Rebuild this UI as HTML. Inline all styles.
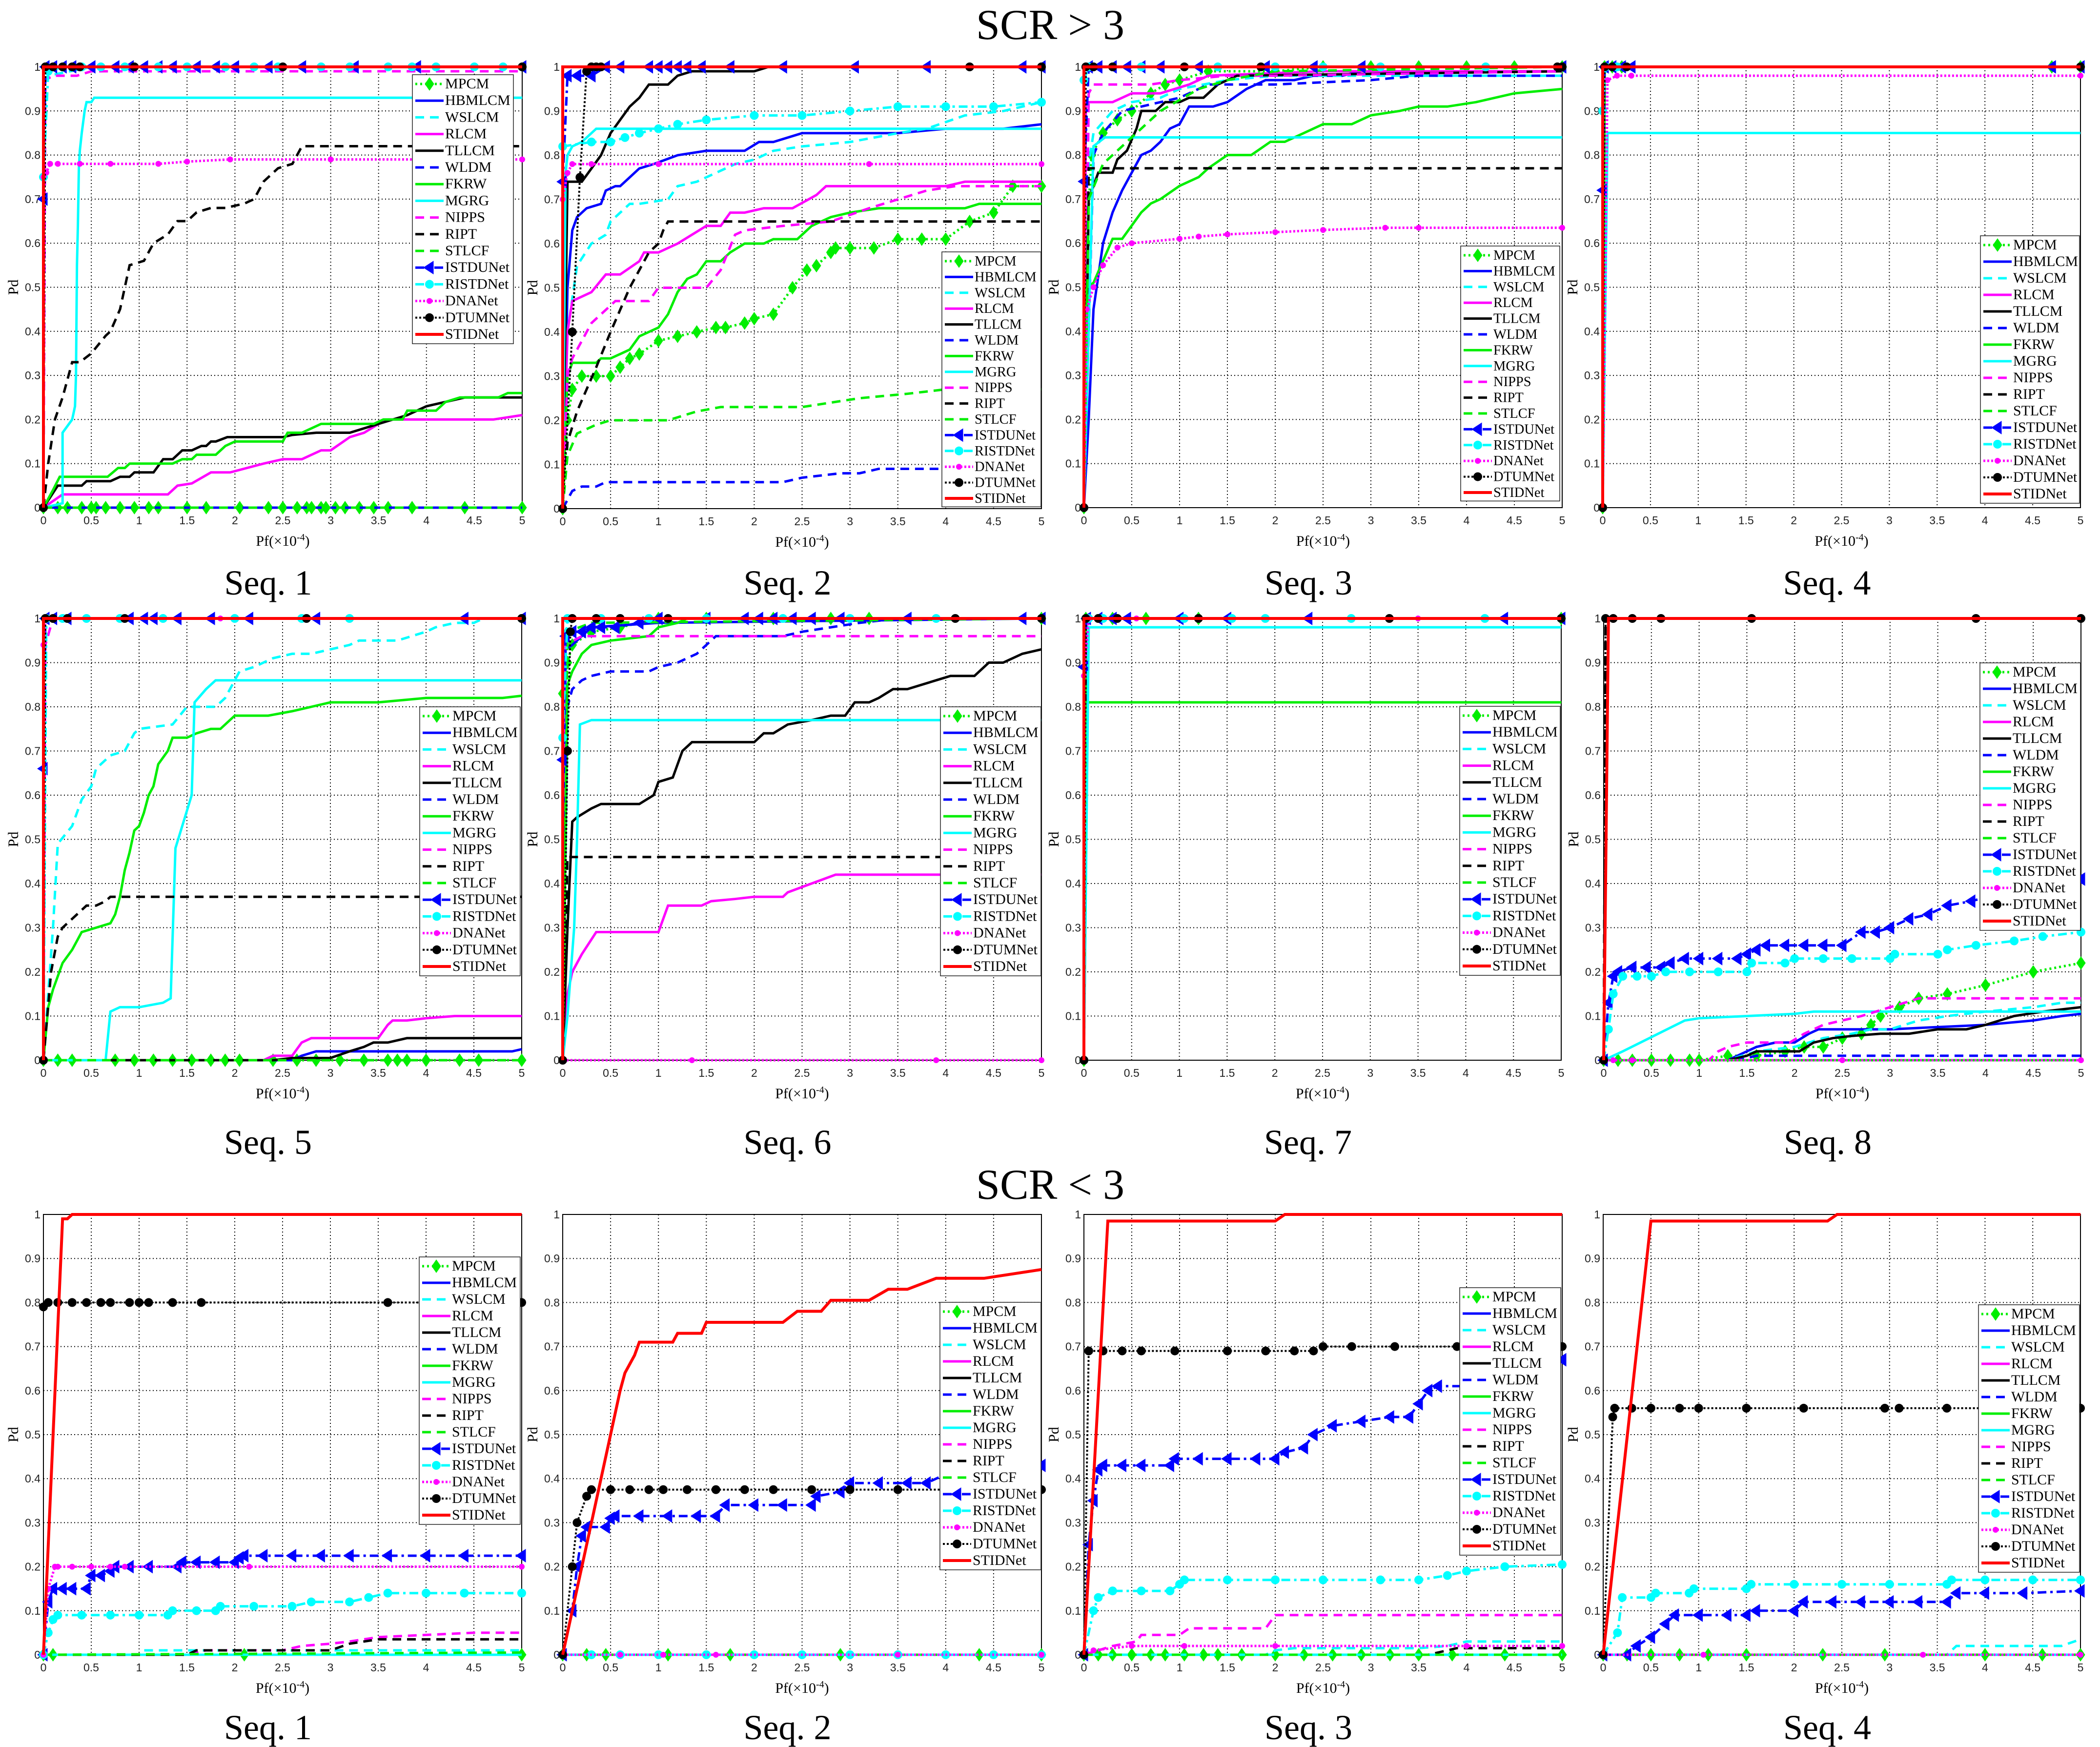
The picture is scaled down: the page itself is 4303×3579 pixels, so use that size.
<!DOCTYPE html>
<html><head><meta charset="utf-8"><title>Pd-Pf curves</title>
<style>
html,body{margin:0;padding:0;background:#fff;}
svg{display:block;}
</style></head>
<body>
<svg id="fig" xmlns="http://www.w3.org/2000/svg" width="4303" height="3579" viewBox="0 0 4303 3579">
<rect x="0" y="0" width="4303" height="3579" fill="#fff"/>
<text x="2152" y="80" font-family="Liberation Serif, serif" font-size="88" text-anchor="middle">SCR &gt; 3</text>
<text x="2152" y="2456" font-family="Liberation Serif, serif" font-size="88" text-anchor="middle">SCR &lt; 3</text>
</svg>
<script>
// ---------- series names (legend order) ----------
const seriesNames = ["MPCM","HBMLCM","WSLCM","RLCM","TLLCM","WLDM","FKRW","MGRG","NIPPS","RIPT","STLCF","ISTDUNet","RISTDNet","DNANet","DTUMNet","STIDNet"];
const xTicks = [0,0.5,1,1.5,2,2.5,3,3.5,4,4.5,5];
const xTickLabels = ["0","0.5","1","1.5","2","2.5","3","3.5","4","4.5","5"];
const yTicks = [0,0.1,0.2,0.3,0.4,0.5,0.6,0.7,0.8,0.9,1];
const yTickLabels = ["0","0.1","0.2","0.3","0.4","0.5","0.6","0.7","0.8","0.9","1"];

// ---------- data: SCR > 3 ----------
const hiSeq1 = [
 [[0,0],[0.15,0],[0.25,0],[0.4,0],[0.5,0],[0.55,0],[0.65,0],[0.8,0],[0.95,0],[1.1,0],[1.2,0],[1.5,0],[1.7,0],[2.05,0],[2.35,0],[2.5,0],[2.65,0],[2.75,0],[2.8,0],[2.9,0],[2.95,0],[3.05,0],[3.15,0],[3.3,0],[3.45,0],[3.6,0],[3.85,0],[4.4,0],[5,0]],
 [[0,0],[5,0]],
 [[0,0],[0.02,0.97],[0.05,0.98],[0.5,1],[5,1]],
 [[0,0],[0.2,0.03],[1.3,0.03],[1.4,0.05],[1.55,0.055],[1.75,0.08],[1.95,0.08],[2.3,0.1],[2.5,0.11],[2.7,0.11],[2.8,0.12],[2.9,0.13],[3,0.13],[3.2,0.16],[3.35,0.17],[3.5,0.19],[3.6,0.2],[4.7,0.2],[5,0.21]],
 [[0,0],[0.15,0.05],[0.4,0.05],[0.45,0.06],[0.7,0.06],[0.8,0.07],[0.9,0.07],[0.95,0.08],[1.15,0.08],[1.25,0.11],[1.35,0.11],[1.45,0.13],[1.55,0.13],[1.65,0.14],[1.7,0.14],[1.75,0.15],[1.8,0.15],[1.92,0.16],[2.5,0.16],[2.6,0.165],[2.85,0.17],[3.2,0.17],[3.5,0.19],[3.8,0.21],[4.0,0.23],[4.4,0.25],[5,0.25]],
 [[0,0],[5,0]],
 [[0,0],[0.1,0.04],[0.17,0.07],[0.67,0.07],[0.78,0.09],[0.85,0.09],[0.9,0.1],[1.35,0.1],[1.45,0.11],[1.55,0.11],[1.6,0.12],[1.8,0.12],[1.9,0.14],[2.0,0.15],[2.5,0.15],[2.55,0.17],[2.7,0.17],[2.9,0.19],[3.45,0.19],[3.55,0.2],[3.75,0.2],[3.8,0.22],[4.1,0.22],[4.2,0.24],[4.35,0.25],[4.75,0.25],[4.85,0.26],[5,0.26]],
 [[0,0],[0.2,0.01],[0.2,0.17],[0.3,0.2],[0.33,0.23],[0.34,0.3],[0.35,0.55],[0.36,0.64],[0.37,0.77],[0.38,0.81],[0.4,0.85],[0.43,0.9],[0.45,0.92],[0.5,0.92],[0.53,0.93],[5,0.93]],
 [[0,0],[0.02,0.97],[0.1,0.98],[0.35,0.98],[0.5,0.99],[5,0.99]],
 [[0,0],[0.05,0.1],[0.12,0.2],[0.2,0.25],[0.3,0.33],[0.38,0.33],[0.5,0.35],[0.65,0.39],[0.7,0.4],[0.8,0.45],[0.9,0.55],[1.05,0.56],[1.15,0.6],[1.3,0.62],[1.4,0.65],[1.5,0.65],[1.6,0.67],[1.75,0.68],[1.9,0.68],[2.1,0.69],[2.2,0.7],[2.3,0.74],[2.45,0.77],[2.6,0.78],[2.7,0.82],[5,0.82]],
 [[0,0],[5,0]],
 [[0,0.7],[0.02,1],[0.1,1],[0.2,1],[0.3,1],[0.5,1],[0.75,1],[0.9,1],[1.05,1],[1.2,1],[1.35,1],[1.6,1],[1.8,1],[2.0,1],[2.35,1],[2.7,1],[3.25,1],[3.9,1],[5,1]],
 [[0,0.75],[0.05,0.99],[0.2,1],[0.4,1],[0.6,1],[0.85,1],[1.2,1],[1.5,1],[1.9,1],[2.2,1],[2.45,1],[2.9,1],[3.2,1],[3.6,1],[3.85,1],[4.1,1],[4.5,1],[4.8,1],[5,1]],
 [[0,0.75],[0.03,0.76],[0.07,0.78],[0.15,0.78],[0.38,0.78],[0.7,0.78],[1.2,0.78],[1.5,0.785],[1.95,0.79],[3.0,0.79],[5,0.79]],
 [[0,0],[0.02,1],[0.1,1],[0.2,1],[0.3,1],[0.38,1],[0.95,1],[2.5,1],[5,1]],
 [[0,0],[0,1],[5,1]]
];
const hiSeq2 = [
 [[0,0],[0.05,0.2],[0.1,0.27],[0.2,0.3],[0.35,0.3],[0.5,0.3],[0.6,0.32],[0.7,0.34],[0.8,0.35],[1,0.38],[1.2,0.39],[1.4,0.4],[1.6,0.41],[1.7,0.41],[1.9,0.42],[2.0,0.43],[2.2,0.44],[2.4,0.5],[2.55,0.54],[2.65,0.55],[2.8,0.58],[2.85,0.59],[3.0,0.59],[3.25,0.59],[3.5,0.61],[3.75,0.61],[4.0,0.61],[4.25,0.65],[4.5,0.67],[4.7,0.73],[5,0.73]],
 [[0,0],[0.05,0.5],[0.1,0.63],[0.15,0.66],[0.25,0.68],[0.4,0.69],[0.45,0.72],[0.55,0.73],[0.6,0.73],[0.8,0.77],[0.95,0.78],[1.2,0.8],[1.5,0.81],[1.9,0.81],[2.05,0.83],[2.2,0.83],[2.5,0.85],[3.5,0.85],[4.0,0.86],[4.6,0.86],[5,0.87]],
 [[0,0],[0.05,0.4],[0.15,0.55],[0.3,0.6],[0.45,0.62],[0.5,0.65],[0.7,0.69],[0.8,0.69],[1.1,0.7],[1.2,0.73],[1.4,0.74],[1.6,0.76],[1.8,0.78],[2.0,0.79],[2.2,0.81],[2.5,0.82],[3.0,0.83],[3.5,0.85],[3.8,0.86],[4.2,0.89],[4.6,0.9],[5,0.92]],
 [[0,0],[0.05,0.4],[0.1,0.47],[0.3,0.49],[0.45,0.53],[0.6,0.53],[0.8,0.56],[0.85,0.58],[1,0.58],[1.2,0.6],[1.5,0.64],[1.65,0.64],[1.75,0.67],[1.9,0.67],[2.1,0.68],[2.4,0.68],[2.65,0.71],[2.75,0.73],[4.0,0.73],[4.2,0.74],[5,0.74]],
 [[0,0],[0.05,0.74],[0.2,0.74],[0.3,0.77],[0.4,0.8],[0.5,0.85],[0.6,0.88],[0.7,0.91],[0.8,0.93],[0.9,0.96],[1.1,0.96],[1.2,0.98],[1.35,0.99],[1.45,0.99],[2.0,0.99],[2.15,1],[5,1]],
 [[0,0],[0.1,0.04],[0.2,0.05],[0.35,0.05],[0.45,0.06],[2.3,0.06],[2.5,0.07],[2.9,0.08],[3.1,0.08],[3.3,0.09],[5,0.09]],
 [[0,0],[0.05,0.3],[0.1,0.33],[0.35,0.33],[0.4,0.34],[0.5,0.34],[0.6,0.35],[0.7,0.36],[0.8,0.39],[1.0,0.41],[1.1,0.44],[1.2,0.49],[1.3,0.52],[1.4,0.53],[1.5,0.56],[1.65,0.56],[1.75,0.58],[1.9,0.6],[2.1,0.6],[2.2,0.61],[2.45,0.61],[2.6,0.64],[2.8,0.66],[3.0,0.67],[3.3,0.68],[4.2,0.68],[4.35,0.69],[5,0.69]],
 [[0,0],[0.03,0.76],[0.05,0.8],[0.1,0.82],[0.2,0.83],[0.35,0.86],[5,0.86]],
 [[0,0],[0.05,0.3],[0.1,0.34],[0.3,0.42],[0.4,0.44],[0.55,0.47],[0.9,0.47],[1.0,0.5],[1.5,0.5],[1.65,0.54],[1.8,0.62],[1.9,0.63],[2.3,0.64],[2.8,0.65],[3.2,0.68],[3.5,0.7],[3.8,0.72],[4.1,0.73],[5,0.73]],
 [[0,0],[0.05,0.15],[0.15,0.22],[0.25,0.27],[0.35,0.32],[0.5,0.4],[0.6,0.45],[0.7,0.5],[0.8,0.54],[0.9,0.58],[1.0,0.6],[1.05,0.63],[1.1,0.65],[5,0.65]],
 [[0,0],[0.05,0.12],[0.15,0.17],[0.35,0.19],[0.5,0.2],[1.1,0.2],[1.4,0.22],[1.65,0.23],[2.5,0.23],[2.8,0.24],[3.1,0.25],[3.6,0.26],[4,0.27],[5,0.27]],
 [[0,0.74],[0.05,0.98],[0.15,0.98],[0.3,0.98],[0.45,1],[0.6,1],[0.9,1],[1.0,1],[1.1,1],[1.2,1],[1.3,1],[1.45,1],[1.75,1],[2.3,1],[3.05,1],[3.8,1],[4.8,1],[5,1]],
 [[0,0.82],[0.3,0.83],[0.5,0.83],[0.65,0.84],[0.8,0.85],[1.0,0.86],[1.2,0.87],[1.5,0.88],[2.0,0.89],[2.5,0.89],[3.0,0.9],[3.5,0.91],[4.0,0.91],[4.5,0.91],[5,0.92]],
 [[0,0.7],[0.05,0.76],[0.1,0.78],[0.3,0.78],[1.0,0.78],[3.2,0.78],[5,0.78]],
 [[0,0],[0.1,0.4],[0.18,0.75],[0.25,0.99],[0.3,1],[0.35,1],[0.4,1],[4.25,1],[5,1]],
 [[0,0],[0,1],[5,1]]
];
const hiSeq3 = [
 [[0,0],[0.03,0.6],[0.08,0.8],[0.2,0.85],[0.35,0.88],[0.5,0.9],[0.7,0.94],[0.85,0.96],[1,0.97],[1.3,0.99],[2,0.99],[2.5,1],[3,1],[3.5,1],[4,1],[4.5,1],[5,1]],
 [[0,0],[0.05,0.2],[0.1,0.45],[0.2,0.6],[0.3,0.67],[0.4,0.72],[0.5,0.76],[0.6,0.8],[0.7,0.81],[0.8,0.83],[0.9,0.86],[1.0,0.87],[1.1,0.91],[1.35,0.91],[1.5,0.92],[1.7,0.95],[1.9,0.97],[2.2,0.97],[2.4,0.98],[2.7,0.98],[2.9,0.99],[5,0.99]],
 [[0,0],[0.03,0.75],[0.1,0.85],[0.3,0.9],[0.5,0.92],[0.8,0.93],[1.0,0.95],[1.5,0.97],[2,0.98],[5,0.98]],
 [[0,0],[0.02,0.92],[0.3,0.92],[0.5,0.94],[0.8,0.94],[1.1,0.96],[1.3,0.98],[2.5,0.99],[5,0.99]],
 [[0,0],[0.05,0.7],[0.1,0.73],[0.15,0.76],[0.3,0.76],[0.35,0.79],[0.45,0.81],[0.55,0.86],[0.6,0.9],[0.75,0.9],[0.85,0.92],[1.0,0.92],[1.1,0.93],[1.25,0.93],[1.4,0.96],[1.5,0.97],[1.6,0.98],[5,0.99]],
 [[0,0],[0.1,0.8],[0.2,0.85],[0.4,0.9],[0.6,0.91],[1.0,0.93],[1.3,0.96],[2,0.96],[3,0.97],[3.5,0.98],[5,0.98]],
 [[0,0],[0.03,0.5],[0.1,0.51],[0.2,0.56],[0.3,0.61],[0.4,0.61],[0.5,0.64],[0.6,0.67],[0.7,0.69],[0.8,0.7],[1,0.73],[1.2,0.75],[1.3,0.77],[1.5,0.8],[1.75,0.8],[1.95,0.83],[2.1,0.83],[2.3,0.85],[2.5,0.87],[2.8,0.87],[3.0,0.89],[3.3,0.9],[3.5,0.91],[3.8,0.91],[4.1,0.92],[4.5,0.94],[5,0.95]],
 [[0,0],[0.1,0.82],[0.22,0.84],[5,0.84]],
 [[0,0],[0.05,0.94],[0.1,0.96],[0.7,0.96],[1.0,0.97],[1.5,0.98],[2,0.98],[5,0.99]],
 [[0,0],[0.05,0.77],[5,0.77]],
 [[0,0],[0.05,0.7],[0.2,0.78],[0.5,0.84],[0.8,0.9],[1.2,0.95],[1.5,0.97],[2,0.99],[5,1]],
 [[0,0.74],[0.05,1],[0.15,1],[0.3,1],[0.45,1],[0.6,1],[0.8,1],[1.2,1],[1.9,1],[2.4,1],[2.9,1],[5,1]],
 [[0,0.97],[0.05,1],[0.3,1],[0.6,1],[1.4,1],[2.0,1],[2.5,1],[3.1,1],[4.2,1],[5,1]],
 [[0,0],[0.03,0.45],[0.1,0.5],[0.2,0.55],[0.35,0.59],[0.5,0.6],[1,0.61],[1.2,0.615],[1.5,0.62],[2.0,0.625],[2.5,0.63],[3.15,0.635],[3.5,0.635],[5,0.635]],
 [[0,0],[0.02,1],[0.1,1],[0.3,1],[1.05,1],[1.85,1],[4.95,1],[5,1]],
 [[0,0],[0,1],[5,1]]
];
const hiSeq4 = [
 [[0,0],[0.02,1],[0.1,1],[0.2,1],[4.7,1],[5,1]],
 [[0,0],[0.02,1],[5,1]],
 [[0,0],[0.02,1],[5,1]],
 [[0,0],[0.02,1],[5,1]],
 [[0,0],[0.02,1],[5,1]],
 [[0,0],[0.02,1],[5,1]],
 [[0,0],[0.02,1],[5,1]],
 [[0,0],[0.05,0.85],[5,0.85]],
 [[0,0],[0.02,1],[5,1]],
 [[0,0],[0.02,1],[5,1]],
 [[0,0],[0.02,1],[5,1]],
 [[0,0.72],[0.02,1],[0.1,1],[0.2,1],[0.3,1],[4.7,1],[5,1]],
 [[0,0.9],[0.03,1],[0.15,1],[0.25,1],[5,1]],
 [[0,0],[0.05,0.97],[0.15,0.98],[0.3,0.98],[5,0.98]],
 [[0,0],[0.02,1],[0.1,1],[0.25,1],[5,1]],
 [[0,0],[0,1],[5,1]]
];
const hiSeq5 = [
 [[0,0],[0.15,0],[0.3,0],[0.75,0],[0.95,0],[1.15,0],[1.35,0],[1.55,0],[1.75,0],[1.9,0],[2.05,0],[2.4,0],[2.65,0],[2.85,0],[3.1,0],[3.35,0],[3.6,0],[3.7,0],[3.8,0],[4.0,0],[4.35,0],[4.55,0],[5,0]],
 [[0,0],[2.6,0],[2.7,0.01],[2.85,0.02],[4.9,0.02],[5,0.025]],
 [[0,0],[0.1,0.3],[0.15,0.49],[0.3,0.53],[0.4,0.59],[0.5,0.62],[0.55,0.66],[0.7,0.69],[0.85,0.7],[0.95,0.74],[1.0,0.75],[1.35,0.76],[1.5,0.8],[1.8,0.8],[1.9,0.82],[2.05,0.88],[2.2,0.89],[2.4,0.91],[2.6,0.92],[2.8,0.92],[3.0,0.93],[3.2,0.94],[3.3,0.95],[3.7,0.95],[3.85,0.96],[4.0,0.97],[4.1,0.98],[4.3,0.99],[4.5,0.99],[4.6,1.0],[5,1]],
 [[0,0],[2.3,0],[2.4,0.01],[2.6,0.01],[2.7,0.04],[2.8,0.05],[3.5,0.05],[3.6,0.08],[3.65,0.09],[3.8,0.09],[4.0,0.095],[4.3,0.1],[5,0.1]],
 [[0,0],[2.4,0],[2.6,0.005],[3.0,0.005],[3.2,0.02],[3.35,0.03],[3.45,0.04],[3.6,0.04],[3.8,0.05],[5,0.05]],
 [[0,0],[5,0]],
 [[0,0],[0.05,0.12],[0.1,0.16],[0.2,0.22],[0.3,0.25],[0.35,0.27],[0.4,0.29],[0.55,0.3],[0.7,0.31],[0.75,0.33],[0.8,0.37],[0.85,0.43],[0.9,0.47],[0.95,0.52],[1.0,0.53],[1.05,0.56],[1.1,0.6],[1.15,0.62],[1.2,0.67],[1.3,0.7],[1.35,0.73],[1.5,0.73],[1.6,0.74],[1.75,0.75],[1.85,0.75],[2.0,0.78],[2.35,0.78],[2.6,0.79],[2.8,0.8],[3.0,0.81],[3.5,0.81],[4.0,0.82],[4.8,0.82],[5,0.825]],
 [[0,0],[0.65,0],[0.7,0.11],[0.8,0.12],[1.0,0.12],[1.25,0.13],[1.33,0.14],[1.38,0.48],[1.55,0.6],[1.58,0.81],[1.7,0.84],[1.8,0.86],[5,0.86]],
 [[0,0],[0.02,0.94],[0.1,1],[5,1]],
 [[0,0],[0.08,0.2],[0.15,0.28],[0.2,0.3],[0.3,0.32],[0.45,0.35],[0.55,0.35],[0.65,0.36],[0.7,0.37],[5,0.37]],
 [[0,0],[5,0]],
 [[0,0.66],[0.02,1],[0.1,1],[0.25,1],[0.9,1],[1.05,1],[1.15,1],[1.4,1],[1.75,1],[2.15,1],[2.85,1],[4.4,1],[5,1]],
 [[0,0],[0.03,1],[0.2,1],[0.45,1],[0.8,1],[1.25,1],[2.0,1],[2.7,1],[3.2,1],[5,1]],
 [[0,0.94],[0.02,1],[1.85,1],[5,1]],
 [[0,0],[0.02,1],[0.1,1],[0.25,1],[0.85,1],[2.75,1],[5,1]],
 [[0,0],[0,1],[5,1]]
];
const hiSeq6 = [
 [[0,0.83],[0.05,0.9],[0.1,0.94],[0.3,0.97],[0.6,0.98],[1.0,1],[1.5,1],[2.2,1],[2.8,1],[3.2,1],[5,1]],
 [[0,0],[0.03,0.93],[0.1,0.94],[0.2,0.96],[0.3,0.98],[1,0.99],[5,1]],
 [[0,0],[0.02,0.97],[0.1,1],[5,1]],
 [[0,0],[0.05,0.15],[0.1,0.2],[0.2,0.24],[0.35,0.29],[1.0,0.29],[1.1,0.35],[1.45,0.35],[1.55,0.36],[1.8,0.365],[2.0,0.37],[2.3,0.37],[2.35,0.38],[2.6,0.4],[2.85,0.42],[5,0.42]],
 [[0,0],[0.05,0.3],[0.1,0.54],[0.15,0.55],[0.3,0.57],[0.4,0.58],[0.8,0.58],[0.95,0.6],[1.0,0.63],[1.15,0.64],[1.25,0.7],[1.35,0.72],[2.0,0.72],[2.1,0.74],[2.2,0.74],[2.35,0.76],[2.6,0.77],[2.8,0.78],[2.95,0.78],[3.05,0.81],[3.2,0.81],[3.3,0.82],[3.45,0.84],[3.6,0.84],[3.9,0.86],[4.05,0.87],[4.3,0.87],[4.45,0.9],[4.6,0.9],[4.8,0.92],[5,0.93]],
 [[0,0],[0.05,0.8],[0.1,0.84],[0.2,0.86],[0.3,0.87],[0.5,0.88],[0.9,0.88],[1.0,0.89],[1.2,0.9],[1.4,0.92],[1.5,0.94],[1.6,0.96],[2.3,0.96],[2.5,0.97],[2.8,0.98],[3.1,0.99],[3.5,1],[5,1]],
 [[0,0],[0.05,0.85],[0.1,0.88],[0.2,0.92],[0.3,0.94],[0.5,0.95],[0.9,0.96],[1.0,0.98],[1.2,0.99],[1.3,1],[5,1]],
 [[0,0],[0.05,0.1],[0.12,0.3],[0.15,0.5],[0.18,0.76],[0.3,0.77],[5,0.77]],
 [[0,0],[0.03,0.94],[0.2,0.96],[5,0.96]],
 [[0,0],[0.05,0.46],[5,0.46]],
 [[0,0],[0.05,0.97],[0.3,0.99],[5,1]],
 [[0,0.68],[0.03,0.96],[0.1,0.97],[0.2,0.97],[0.3,0.98],[0.4,0.98],[0.55,0.98],[0.8,0.99],[1.0,1],[1.5,1],[1.9,1],[2.05,1],[2.2,1],[2.4,1],[2.6,1],[2.9,1],[3.6,1],[4.8,1],[5,1]],
 [[0,0.73],[0.05,1],[0.4,1],[0.9,1],[1.5,1],[2.3,1],[3.0,1],[3.9,1],[5,1]],
 [[0,0],[1.35,0],[3.9,0],[5,0]],
 [[0,0],[0.05,0.7],[0.08,0.97],[0.1,1],[0.35,1],[0.6,1],[1.1,1],[4.1,1],[5,1]],
 [[0,0],[0,1],[5,1]]
];
const hiSeq7 = [
 [[0,0],[0.02,1],[0.3,1],[0.65,1],[1.2,1],[5,1]],
 [[0,0],[0.02,1],[5,1]],
 [[0,0],[0.02,1],[5,1]],
 [[0,0],[0.02,1],[5,1]],
 [[0,0],[0.02,1],[5,1]],
 [[0,0],[0.02,1],[5,1]],
 [[0,0],[0.03,0.81],[5,0.81]],
 [[0,0],[0.05,0.98],[5,0.98]],
 [[0,0],[0.02,1],[5,1]],
 [[0,0],[0.02,1],[5,1]],
 [[0,0],[0.02,1],[5,1]],
 [[0,0.89],[0.03,1],[0.15,1],[0.3,1],[0.45,1],[1.0,1],[1.5,1],[2.35,1],[4.4,1],[5,1]],
 [[0,0],[0.05,1],[0.2,1],[1.05,1],[1.55,1],[1.9,1],[2.8,1],[4.2,1],[5,1]],
 [[0,0.87],[0.05,1],[0.55,1],[3.5,1],[5,1]],
 [[0,0],[0.02,1],[0.15,1],[0.35,1],[1.2,1],[3.2,1],[5,1]],
 [[0,0],[0,1],[5,1]]
];
const hiSeq8 = [
 [[0,0],[0.15,0],[0.3,0],[0.5,0],[0.7,0],[0.9,0],[1.0,0],[1.3,0.01],[1.6,0.01],[1.9,0.02],[2.1,0.03],[2.3,0.03],[2.5,0.05],[2.7,0.06],[2.8,0.08],[2.9,0.1],[3.1,0.12],[3.3,0.14],[3.6,0.15],[4.0,0.17],[4.5,0.2],[5,0.22]],
 [[0,0],[1.3,0],[1.5,0.02],[1.6,0.03],[1.8,0.04],[2.0,0.04],[2.15,0.06],[2.25,0.07],[3.0,0.07],[3.5,0.075],[4.0,0.08],[4.5,0.09],[4.8,0.1],[5,0.105]],
 [[0,0],[1.3,0],[1.6,0.02],[2.0,0.03],[2.3,0.05],[2.6,0.06],[2.8,0.07],[3.0,0.07],[3.3,0.09],[3.6,0.1],[4.0,0.11],[4.5,0.12],[4.8,0.13],[5,0.13]],
 [[0,0],[5,0]],
 [[0,0],[1.3,0],[1.5,0.01],[1.6,0.02],[2.05,0.02],[2.2,0.04],[2.4,0.05],[2.6,0.055],[2.9,0.06],[3.2,0.06],[3.5,0.07],[3.8,0.07],[4.0,0.08],[4.3,0.1],[4.6,0.11],[5,0.12]],
 [[0,0],[1.4,0],[1.6,0.01],[5,0.01]],
 [[0,0],[5,0]],
 [[0,0],[0.2,0.02],[0.85,0.09],[1.0,0.095],[1.5,0.1],[2.0,0.105],[2.2,0.11],[5,0.11]],
 [[0,0],[1.1,0],[1.2,0.02],[1.3,0.03],[1.5,0.04],[1.95,0.04],[2.1,0.06],[2.3,0.08],[2.7,0.1],[3.0,0.12],[3.3,0.14],[5,0.14]],
 [[0,0],[0.02,1],[5,1]],
 [[0,0],[5,0]],
 [[0,0],[0.05,0.13],[0.1,0.19],[0.15,0.2],[0.3,0.21],[0.45,0.21],[0.6,0.21],[0.7,0.22],[0.85,0.23],[1.0,0.23],[1.2,0.23],[1.4,0.23],[1.5,0.24],[1.6,0.25],[1.7,0.26],[1.9,0.26],[2.1,0.26],[2.3,0.26],[2.5,0.26],[2.7,0.29],[2.85,0.29],[3.0,0.3],[3.2,0.32],[3.4,0.33],[3.6,0.35],[3.85,0.36],[4.2,0.38],[4.6,0.39],[5,0.41]],
 [[0,0],[0.05,0.07],[0.1,0.15],[0.2,0.19],[0.35,0.19],[0.5,0.19],[0.65,0.2],[0.9,0.2],[1.2,0.2],[1.5,0.2],[1.55,0.22],[1.9,0.22],[2.0,0.23],[2.3,0.23],[2.6,0.23],[3.0,0.23],[3.05,0.24],[3.5,0.24],[3.6,0.25],[3.9,0.26],[4.3,0.27],[4.6,0.28],[5,0.29]],
 [[0,0],[0.1,0],[0.3,0],[2.5,0],[5,0]],
 [[0,0],[0.02,1],[0.1,1],[0.3,1],[0.6,1],[1.55,1],[3.9,1],[5,1]],
 [[0,0],[0.05,1],[5,1]]
];

// ---------- data: SCR < 3 ----------
const loSeq1 = [
 [[0,0],[0.1,0],[2.1,0],[5,0]],
 [[0,0],[5,0]],
 [[0,0],[1.0,0],[1.05,0.01],[3.0,0.01],[5,0.01]],
 [[0,0],[5,0]],
 [[0,0],[5,0]],
 [[0,0],[5,0]],
 [[0,0],[5,0]],
 [[0,0],[5,0]],
 [[0,0],[1.5,0],[1.7,0.01],[2.5,0.01],[2.7,0.02],[3.0,0.025],[3.2,0.03],[3.5,0.04],[4.0,0.045],[4.5,0.05],[5,0.05]],
 [[0,0],[1.5,0],[1.6,0.01],[3.0,0.01],[3.2,0.025],[3.5,0.035],[5,0.035]],
 [[0,0],[5,0.005]],
 [[0,0],[0.05,0.12],[0.1,0.15],[0.2,0.15],[0.3,0.15],[0.45,0.15],[0.5,0.18],[0.6,0.18],[0.7,0.19],[0.75,0.2],[0.9,0.2],[1.1,0.2],[1.4,0.2],[1.45,0.21],[1.6,0.21],[1.8,0.21],[2.0,0.21],[2.05,0.22],[2.1,0.225],[2.3,0.225],[2.6,0.225],[2.9,0.225],[3.2,0.225],[3.6,0.225],[4.0,0.225],[4.4,0.225],[5,0.225]],
 [[0,0],[0.05,0.05],[0.1,0.08],[0.15,0.09],[0.4,0.09],[0.7,0.09],[1.0,0.09],[1.3,0.09],[1.35,0.1],[1.6,0.1],[1.8,0.1],[1.85,0.11],[2.2,0.11],[2.6,0.11],[2.8,0.12],[3.2,0.12],[3.4,0.13],[3.6,0.14],[4.0,0.14],[4.4,0.14],[5,0.14]],
 [[0,0],[0.05,0.15],[0.12,0.2],[0.15,0.2],[0.3,0.2],[0.5,0.2],[0.7,0.2],[0.85,0.2],[2.15,0.2],[5,0.2]],
 [[0,0.79],[0.05,0.8],[0.15,0.8],[0.3,0.8],[0.45,0.8],[0.6,0.8],[0.7,0.8],[0.9,0.8],[1.0,0.8],[1.1,0.8],[1.35,0.8],[1.65,0.8],[3.6,0.8],[5,0.8]],
 [[0,0],[0.2,0.99],[0.25,0.99],[0.3,1],[5,1]]
];
const loSeq2 = [
 [[0,0],[0.25,0],[0.45,0],[1.1,0],[1.75,0],[2.9,0],[4.35,0],[5,0]],
 [[0,0],[5,0]],
 [[0,0],[5,0]],
 [[0,0],[5,0]],
 [[0,0],[5,0]],
 [[0,0],[5,0]],
 [[0,0],[5,0]],
 [[0,0],[5,0]],
 [[0,0],[5,0]],
 [[0,0],[5,0]],
 [[0,0],[5,0]],
 [[0,0],[0.1,0.1],[0.15,0.2],[0.2,0.27],[0.25,0.29],[0.45,0.29],[0.5,0.31],[0.55,0.315],[0.8,0.315],[1.1,0.315],[1.4,0.315],[1.6,0.315],[1.7,0.34],[2.0,0.34],[2.3,0.34],[2.6,0.34],[2.65,0.36],[2.9,0.37],[3.0,0.39],[3.3,0.39],[3.6,0.39],[3.8,0.39],[4.0,0.41],[5,0.43]],
 [[0,0],[0.3,0],[0.6,0],[1.0,0],[1.5,0],[2.0,0],[2.5,0],[3.0,0],[3.5,0],[4.0,0],[4.5,0],[5,0]],
 [[0,0],[0.6,0],[1.05,0],[1.6,0],[3.5,0],[5,0]],
 [[0,0],[0.1,0.2],[0.15,0.3],[0.25,0.36],[0.3,0.375],[0.5,0.375],[0.7,0.375],[0.9,0.375],[1.05,0.375],[1.3,0.375],[1.6,0.375],[1.9,0.375],[2.2,0.375],[2.6,0.375],[3.0,0.375],[3.5,0.375],[5,0.375]],
 [[0,0],[0.3,0.3],[0.6,0.6],[0.65,0.64],[0.75,0.68],[0.8,0.71],[1.15,0.71],[1.2,0.73],[1.45,0.73],[1.5,0.755],[2.3,0.755],[2.45,0.78],[2.7,0.78],[2.8,0.805],[3.2,0.805],[3.4,0.83],[3.6,0.83],[3.9,0.855],[4.4,0.855],[5,0.875]]
];
const loSeq3 = [
 [[0,0],[0.15,0],[0.3,0],[0.5,0],[0.7,0],[0.85,0],[1.05,0],[1.25,0],[1.4,0],[1.65,0],[2.0,0],[2.3,0],[2.6,0],[2.9,0],[3.2,0],[3.5,0],[3.85,0],[4.4,0],[5,0]],
 [[0,0],[5,0]],
 [[0,0],[1.9,0],[2.0,0.01],[2.2,0.015],[3.5,0.015],[3.8,0.02],[4.0,0.03],[5,0.03]],
 [[0,0],[5,0]],
 [[0,0],[5,0]],
 [[0,0],[5,0]],
 [[0,0],[5,0]],
 [[0,0],[5,0]],
 [[0,0],[0.3,0.02],[0.55,0.03],[0.6,0.045],[1.0,0.045],[1.1,0.06],[1.9,0.06],[2.0,0.09],[5,0.09]],
 [[0,0],[3.6,0],[3.8,0.01],[3.9,0.015],[5,0.015]],
 [[0,0],[5,0]],
 [[0,0],[0.05,0.25],[0.1,0.35],[0.15,0.42],[0.2,0.43],[0.4,0.43],[0.6,0.43],[0.9,0.43],[0.95,0.445],[1.2,0.445],[1.5,0.445],[1.8,0.445],[2.0,0.445],[2.1,0.46],[2.3,0.47],[2.4,0.5],[2.6,0.52],[2.9,0.53],[3.2,0.54],[3.4,0.54],[3.5,0.57],[3.6,0.6],[3.7,0.61],[4.0,0.61],[5,0.67]],
 [[0,0],[0.1,0.1],[0.15,0.13],[0.3,0.145],[0.6,0.145],[0.9,0.145],[1.0,0.16],[1.05,0.17],[1.5,0.17],[2.0,0.17],[2.5,0.17],[3.1,0.17],[3.5,0.17],[3.8,0.18],[4.0,0.19],[4.4,0.2],[5,0.205]],
 [[0,0],[0.1,0.01],[0.5,0.02],[1.05,0.02],[2.0,0.02],[4.0,0.02],[5,0.02]],
 [[0,0],[0.05,0.69],[0.2,0.69],[0.4,0.69],[0.6,0.69],[0.95,0.69],[1.5,0.69],[1.9,0.69],[2.2,0.69],[2.4,0.69],[2.5,0.7],[2.8,0.7],[3.25,0.7],[3.9,0.7],[5,0.7]],
 [[0,0],[0.25,0.985],[2.0,0.985],[2.1,1],[5,1]]
];
const loSeq4 = [
 [[0,0],[0.25,0],[0.5,0],[0.8,0],[1.1,0],[1.5,0],[2.3,0],[2.95,0],[4.0,0],[4.6,0],[5,0]],
 [[0,0],[5,0]],
 [[0,0],[3.6,0],[3.7,0.02],[4.8,0.02],[5,0.035]],
 [[0,0],[5,0]],
 [[0,0],[5,0]],
 [[0,0],[5,0]],
 [[0,0],[5,0]],
 [[0,0],[5,0]],
 [[0,0],[5,0]],
 [[0,0],[5,0]],
 [[0,0],[5,0]],
 [[0,0],[0.25,0],[0.35,0.02],[0.5,0.04],[0.65,0.07],[0.75,0.09],[1.0,0.09],[1.3,0.09],[1.5,0.09],[1.6,0.1],[2.0,0.1],[2.1,0.12],[2.4,0.12],[2.7,0.12],[3.0,0.12],[3.3,0.12],[3.6,0.12],[3.7,0.14],[4.0,0.14],[4.4,0.14],[5,0.145]],
 [[0,0],[0.15,0.05],[0.2,0.13],[0.5,0.13],[0.55,0.14],[0.9,0.14],[0.95,0.15],[1.5,0.15],[1.55,0.16],[2.0,0.16],[2.5,0.16],[3.0,0.16],[3.6,0.16],[3.65,0.17],[4.0,0.17],[4.5,0.17],[5,0.17]],
 [[0,0],[1.05,0],[3.35,0],[5,0]],
 [[0,0],[0.1,0.54],[0.12,0.56],[0.3,0.56],[0.5,0.56],[0.8,0.56],[1.0,0.56],[1.5,0.56],[2.1,0.56],[2.95,0.56],[3.1,0.56],[3.6,0.56],[5,0.56]],
 [[0,0],[0.5,0.985],[2.35,0.985],[2.45,1],[5,1]]
];

// ---------- styles ----------
const seriesStyle = [
 {c:"#00ee00",d:"4,6",w:5,m:"diamond"},
 {c:"#0000ff",d:"",w:5,m:""},
 {c:"#00ffff",d:"18,12",w:5,m:""},
 {c:"#ff00ff",d:"",w:5,m:""},
 {c:"#000000",d:"",w:5,m:""},
 {c:"#0000ff",d:"18,12",w:5,m:""},
 {c:"#00ee00",d:"",w:5,m:""},
 {c:"#00ffff",d:"",w:5,m:""},
 {c:"#ff00ff",d:"18,12",w:5,m:""},
 {c:"#000000",d:"18,12",w:5,m:""},
 {c:"#00ee00",d:"18,12",w:5,m:""},
 {c:"#0000ff",d:"18,8,5,8",w:5,m:"tri"},
 {c:"#00ffff",d:"18,8,5,8",w:5,m:"circle"},
 {c:"#ff00ff",d:"4,4",w:5,m:"small"},
 {c:"#000000",d:"4,4",w:4,m:"circle"},
 {c:"#ff0000",d:"",w:6,m:""}
];
const panels = [
 {id:"hi-seq1",label:"Seq. 1",data:hiSeq1,x0:89,y0:137,w:981,h:903,lg:[845,153,207],sp:34.2,lb:1218},
 {id:"hi-seq2",label:"Seq. 2",data:hiSeq2,x0:1153,y0:137,w:981,h:905,lg:[1930,516,203],sp:32.4,lb:1218},
 {id:"hi-seq3",label:"Seq. 3",data:hiSeq3,x0:2221,y0:137,w:980,h:903,lg:[2993,504,203],sp:32.4,lb:1218},
 {id:"hi-seq4",label:"Seq. 4",data:hiSeq4,x0:3284,y0:137,w:979,h:903,lg:[4058,483,203],sp:34,lb:1218},
 {id:"hi-seq5",label:"Seq. 5",data:hiSeq5,x0:89,y0:1267,w:980,h:905,lg:[860,1448,206],sp:34.2,lb:2364},
 {id:"hi-seq6",label:"Seq. 6",data:hiSeq6,x0:1153,y0:1267,w:981,h:905,lg:[1927,1448,206],sp:34.2,lb:2364},
 {id:"hi-seq7",label:"Seq. 7",data:hiSeq7,x0:2221,y0:1267,w:978,h:905,lg:[2991,1447,206],sp:34.2,lb:2364},
 {id:"hi-seq8",label:"Seq. 8",data:hiSeq8,x0:3286,y0:1267,w:978,h:905,lg:[4057,1358,206],sp:34,lb:2364},
 {id:"lo-seq1",label:"Seq. 1",data:loSeq1,x0:89,y0:2488,w:980,h:902,lg:[859,2575,207],sp:34,lb:3563},
 {id:"lo-seq2",label:"Seq. 2",data:loSeq2,x0:1153,y0:2488,w:981,h:902,lg:[1926,2668,207],sp:34,lb:3563},
 {id:"lo-seq3",label:"Seq. 3",data:loSeq3,x0:2221,y0:2488,w:980,h:902,lg:[2991,2638,207],sp:34,lb:3563},
 {id:"lo-seq4",label:"Seq. 4",data:loSeq4,x0:3285,y0:2488,w:978,h:902,lg:[4054,2673,207],sp:34,lb:3563}
];

const NS = "http://www.w3.org/2000/svg";
const svg = document.getElementById("fig");
function mk(tag, attrs, parent){
  const e = document.createElementNS(NS, tag);
  for (const k in attrs) e.setAttribute(k, attrs[k]);
  parent.appendChild(e);
  return e;
}
function drawMarker(g, kind, x, y, color){
  let m;
  if (kind === "diamond") {
    m = mk("polygon",{points:`${x},${y-13} ${x+9},${y} ${x},${y+13} ${x-9},${y}`,fill:color,stroke:color,"stroke-width":1},g);
  } else if (kind === "tri") {
    m = mk("polygon",{points:`${x-12},${y} ${x+8},${y-13} ${x+8},${y+13}`,fill:color,stroke:color,"stroke-width":1},g);
  } else if (kind === "circle") {
    m = mk("circle",{cx:x,cy:y,r:9,fill:color},g);
  } else {
    m = mk("circle",{cx:x,cy:y,r:6,fill:color},g);
  }
  
  
}

panels.forEach((p, pi) => {
  const g = mk("g", {}, svg);
  
  
  const sx = v => p.x0 + v / 5 * p.w;
  const sy = v => p.y0 + p.h - v * p.h;
  const grid = mk("g", {}, g);
  
  
  xTicks.forEach((t, i) => {
    if (i > 0 && i < xTicks.length - 1) mk("line",{x1:sx(t),y1:p.y0,x2:sx(t),y2:p.y0+p.h,stroke:"#000","stroke-width":2,"stroke-dasharray":"2,5"},grid);
    const tl = mk("text",{x:sx(t),y:p.y0+p.h+34,"font-family":"Liberation Sans, sans-serif","font-size":23,fill:"#222","text-anchor":"middle"},g);
    tl.textContent = xTickLabels[i];
    
    
  });
  yTicks.forEach((t, i) => {
    if (i > 0 && i < yTicks.length - 1) mk("line",{x1:p.x0,y1:sy(t),x2:p.x0+p.w,y2:sy(t),stroke:"#000","stroke-width":2,"stroke-dasharray":"2,5"},grid);
    const tl = mk("text",{x:p.x0-6,y:sy(t)+8,"font-family":"Liberation Sans, sans-serif","font-size":23,fill:"#222","text-anchor":"end"},g);
    tl.textContent = yTickLabels[i];
    
    
  });
  const box = mk("rect",{x:p.x0,y:p.y0,width:p.w,height:p.h,fill:"none",stroke:"#000","stroke-width":2},g);
  
  
  p.data.forEach((pts, si) => {
    const st = seriesStyle[si];
    const sg = mk("g", {}, g);
    
    
    const d = pts.map((q, k) => (k ? "L" : "M") + sx(q[0]).toFixed(1) + "," + sy(q[1]).toFixed(1)).join(" ");
    const path = mk("path",{d:d,fill:"none",stroke:st.c,"stroke-width":st.w,"stroke-linejoin":"miter"},sg);
    if (st.d) path.setAttribute("stroke-dasharray", st.d);
    
    
    if (st.m) pts.forEach(q => drawMarker(sg, st.m, sx(q[0]), sy(q[1]), st.c));
  });
  const lg = mk("g", {}, g);
  
  
  const [lx, ly, lw] = p.lg;
  mk("rect",{x:lx,y:ly,width:lw,height:p.sp*16+4,fill:"#fff",stroke:"#222","stroke-width":1.5},lg);
  seriesNames.forEach((nm, si) => {
    const st = seriesStyle[si];
    const ey = ly + 19 + si * p.sp;
    const eg = mk("g", {}, lg);
    
    
    const ln = mk("line",{x1:lx+6,y1:ey,x2:lx+64,y2:ey,stroke:st.c,"stroke-width":st.w},eg);
    if (st.d) ln.setAttribute("stroke-dasharray", st.d);
    if (st.m) drawMarker(eg, st.m, lx+35, ey, st.c);
    const tx = mk("text",{x:lx+67,y:ey+9,"font-family":"Liberation Serif, serif","font-size":p.sp*0.88,fill:"#000"},eg);
    tx.textContent = nm;
  });
  const yl = mk("text",{x:0,y:0,"font-family":"Liberation Serif, serif","font-size":30,"text-anchor":"middle",transform:`translate(${p.x0-52},${p.y0+p.h/2}) rotate(-90)`},g);
  yl.textContent = "Pd";
  
  
  const xl = mk("text",{x:p.x0+p.w/2,y:p.y0+p.h+78,"font-family":"Liberation Serif, serif","font-size":30,"text-anchor":"middle"},g);
  xl.innerHTML = 'Pf(×10<tspan baseline-shift="super" font-size="20">-4</tspan>)';
  
  
  const sl = mk("text",{x:p.x0+p.w/2-30,y:p.lb,"font-family":"Liberation Serif, serif","font-size":72,"text-anchor":"middle"},g);
  sl.textContent = p.label;
  
  
});
</script>
</body></html>
